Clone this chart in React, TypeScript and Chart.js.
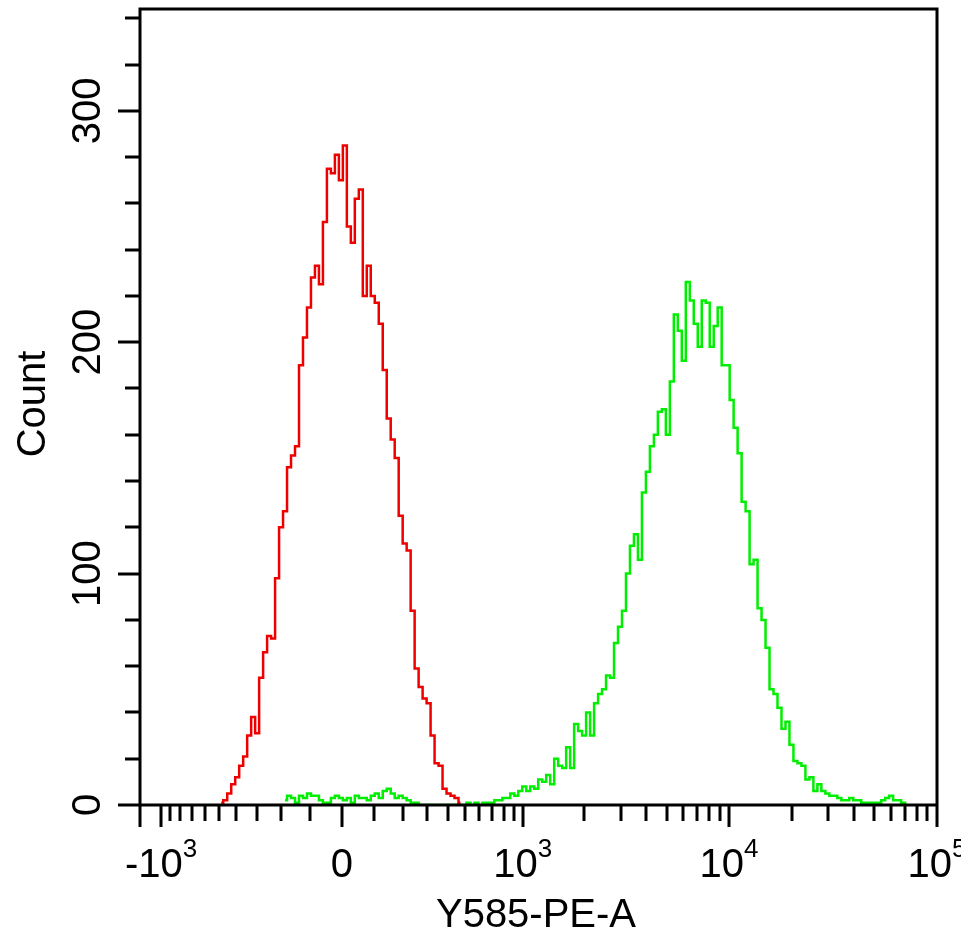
import React, { useEffect, useRef } from 'react';
import { Chart, registerables } from 'chart.js';

Chart.register(...registerables);

// ---- axis definition (biexponential / arcsinh display) ----
const BIN_COUNT = 200;
const X_MIN_VALUE = -1280;
const X_MAX_VALUE = 100000;
const BIEX_WIDTH = 275;
const Y_MAX = 344;

const xMajorTicks = [-1000, 0, 1000, 10000, 100000];
const xMajorBase = ['-10', '0', '10', '10', '10'];
const xMajorExp = ['3', '', '3', '4', '5'];
const xMinorTicks = [
  -900, -800, -700, -600, -500, -400, -300, -200, -100,
  100, 200, 300, 400, 500, 600, 700, 800, 900,
  2000, 3000, 4000, 5000, 6000, 7000, 8000, 9000,
  20000, 30000, 40000, 50000, 60000, 70000, 80000, 90000,
];
const yMajorTicks = [0, 100, 200, 300];
const yMinorTicks = [20, 40, 60, 80, 120, 140, 160, 180, 220, 240, 260, 280, 320, 340];

const xTitle = 'Y585-PE-A';
const yTitle = 'Count';

// ---- histogram counts (per display bin) ----
const redStartBin = 20;
const redCounts = [
  1, 2, 5, 9, 12, 17, 21, 30, 38, 31,
  55, 66, 73, 72, 98, 120, 127, 146, 151, 155,
  190, 202, 215, 228, 233, 225, 252, 275, 273, 281,
  270, 285, 250, 243, 262, 266, 220, 233, 220, 217,
  208, 188, 167, 158, 150, 125, 113, 110, 84, 59,
  51, 46, 44, 30, 18, 17, 7, 5, 4, 3,
  1,
];

const greenStartBin = 36;
const greenCounts = [
  2, 4, 3, 1, 4, 3, 5, 4, 4, 2,
  1, 1, 3, 4, 3, 2, 3, 1, 4, 3,
  3, 2, 4, 5, 3, 6, 7, 5, 3, 4,
  3, 2, 1, 1, 0, 0, 0, 0, 0, 0,
  0, 0, 0, 0, 0, 0, 1, 0, 1, 0,
  1, 1, 1, 2, 2, 3, 3, 5, 4, 6,
  8, 6, 8, 7, 11, 10, 13, 9, 20, 17,
  16, 25, 16, 35, 32, 30, 40, 30, 44, 48,
  50, 56, 55, 70, 77, 84, 100, 112, 117, 106,
  135, 144, 155, 160, 170, 171, 160, 183, 212, 205,
  192, 226, 218, 208, 198, 218, 217, 198, 207, 215,
  190, 190, 175, 163, 152, 131, 127, 104, 106, 85,
  80, 68, 50, 48, 42, 33, 36, 26, 19, 18,
  17, 11, 12, 6, 9, 6, 5, 4, 4, 3,
  2, 2, 3, 2, 2, 1, 1, 1, 1, 1,
  2, 3, 4, 2, 2, 1, 0,
];

const RED = '#ee0000';
const GREEN = '#00ee00';
const FONT = '"Liberation Sans", Arial, sans-serif';

const tf = (v: number) => Math.asinh(v / BIEX_WIDTH);
const toBin = (v: number) =>
  ((tf(v) - tf(X_MIN_VALUE)) / (tf(X_MAX_VALUE) - tf(X_MIN_VALUE))) * BIN_COUNT;

const toPoints = (start: number, counts: number[]) =>
  counts.map((c, k) => ({ x: start + k + 0.5, y: c }));

const framePlugin = {
  id: 'frame',
  afterDatasetsDraw(chart: any) {
    const { ctx, chartArea: a, scales } = chart;
    const xs = scales.x;
    const ys = scales.y;
    const L = Math.round(a.left);
    const R = Math.round(a.right);
    const T = Math.round(a.top);
    const B = Math.round(a.bottom);
    ctx.save();
    ctx.strokeStyle = '#000';
    ctx.fillStyle = '#000';
    ctx.lineWidth = 3;
    ctx.lineCap = 'butt';
    ctx.beginPath();
    // frame
    ctx.moveTo(L - 1.5, T);
    ctx.lineTo(R + 1.5, T);
    ctx.moveTo(R, T);
    ctx.lineTo(R, B);
    ctx.moveTo(L, T);
    ctx.lineTo(L, B + 22);
    ctx.moveTo(L - 22, B);
    ctx.lineTo(R + 1.5, B);
    // x ticks
    xMajorTicks.forEach((v) => {
      const px = Math.round(xs.getPixelForValue(toBin(v)));
      ctx.moveTo(px, B);
      ctx.lineTo(px, B + 22);
    });
    xMinorTicks.forEach((v) => {
      const px = Math.round(xs.getPixelForValue(toBin(v)));
      ctx.moveTo(px, B);
      ctx.lineTo(px, B + 16);
    });
    // y ticks
    yMajorTicks.forEach((v) => {
      const py = Math.round(ys.getPixelForValue(v));
      ctx.moveTo(L - 22, py);
      ctx.lineTo(L, py);
    });
    yMinorTicks.forEach((v) => {
      const py = Math.round(ys.getPixelForValue(v));
      ctx.moveTo(L - 15, py);
      ctx.lineTo(L, py);
    });
    ctx.stroke();

    // x tick labels
    const baseFont = `40px ${FONT}`;
    const expFont = `26px ${FONT}`;
    ctx.textBaseline = 'alphabetic';
    ctx.textAlign = 'left';
    xMajorTicks.forEach((v, i) => {
      const px = xs.getPixelForValue(toBin(v));
      const base = xMajorBase[i];
      const exp = xMajorExp[i];
      ctx.font = baseFont;
      const wb = ctx.measureText(base).width;
      ctx.font = expFont;
      const we = exp ? ctx.measureText(exp).width : 0;
      const left = px - (wb + we) / 2;
      ctx.font = baseFont;
      ctx.fillText(base, left, B + 72);
      if (exp) {
        ctx.font = expFont;
        ctx.fillText(exp, left + wb, B + 52);
      }
    });

    // y tick labels (rotated)
    ctx.font = baseFont;
    ctx.textAlign = 'center';
    yMajorTicks.forEach((v) => {
      const py = ys.getPixelForValue(v);
      ctx.save();
      ctx.translate(100, py);
      ctx.rotate(-Math.PI / 2);
      ctx.fillText(String(v), 0, 0);
      ctx.restore();
    });

    // titles
    ctx.font = baseFont;
    ctx.textAlign = 'center';
    ctx.fillText(xTitle, 536, 927);
    ctx.save();
    ctx.translate(45, 404);
    ctx.rotate(-Math.PI / 2);
    ctx.fillText(yTitle, 0, 0);
    ctx.restore();
    ctx.restore();
  },
};

export default function App() {
  const ref = useRef<HTMLCanvasElement | null>(null);
  useEffect(() => {
    if (!ref.current) return;
    const chart = new Chart(ref.current, {
      type: 'line',
      data: {
        datasets: [
          {
            label: 'red',
            data: toPoints(redStartBin, redCounts),
            borderColor: RED,
            borderWidth: 2.5,
            pointRadius: 0,
            stepped: 'middle',
            fill: false,
          },
          {
            label: 'green',
            data: toPoints(greenStartBin, greenCounts),
            borderColor: GREEN,
            borderWidth: 2.5,
            pointRadius: 0,
            stepped: 'middle',
            fill: false,
          },
        ],
      },
      options: {
        responsive: false,
        animation: false,
        devicePixelRatio: 1,
        layout: { padding: { left: 139.5, right: 24, top: 9, bottom: 131 } },
        plugins: { legend: { display: false }, tooltip: { enabled: false } },
        scales: {
          x: { type: 'linear', display: false, min: 0, max: BIN_COUNT },
          y: { type: 'linear', display: false, min: 0, max: Y_MAX },
        },
      },
      plugins: [framePlugin],
    });
    return () => chart.destroy();
  }, []);
  return (
    <div style={{ position: 'fixed', left: 0, top: 0, width: 961, height: 936, background: '#fff' }}>
      <canvas ref={ref} width={961} height={936} style={{ display: 'block' }} />
    </div>
  );
}
